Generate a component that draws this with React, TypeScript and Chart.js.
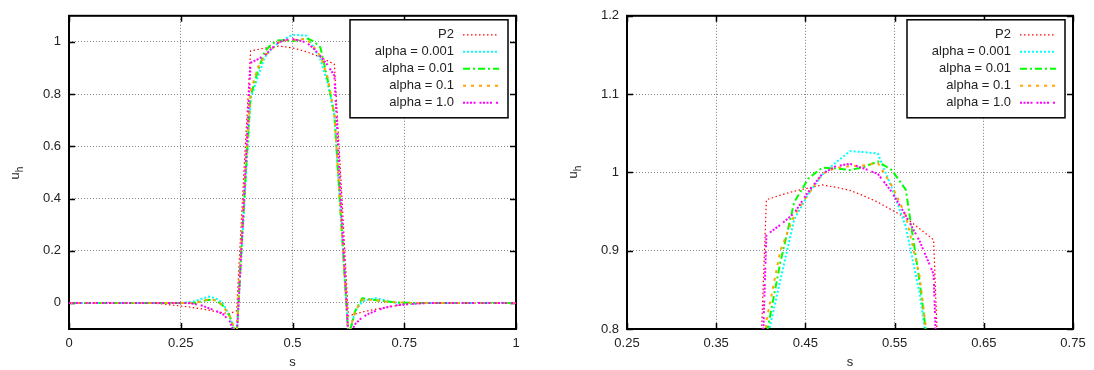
import React, { useEffect, useRef } from 'react';
import { Chart, registerables } from 'chart.js';
Chart.register(...registerables);

// ---------- data ----------
const S = [
  0, 0.015625, 0.03125, 0.046875, 0.0625, 0.078125, 0.09375, 0.109375, 0.125, 0.140625,
  0.15625, 0.171875, 0.1875, 0.203125, 0.21875, 0.234375, 0.25, 0.265625, 0.28125, 0.296875,
  0.3125, 0.328125, 0.34375, 0.359375, 0.375, 0.390625, 0.40625, 0.421875, 0.4375, 0.453125,
  0.46875, 0.484375, 0.5, 0.515625, 0.53125, 0.546875, 0.5625, 0.578125, 0.59375, 0.609375,
  0.625, 0.640625, 0.65625, 0.671875, 0.6875, 0.703125, 0.71875, 0.734375, 0.75, 0.765625,
  0.78125, 0.796875, 0.8125, 0.828125, 0.84375, 0.859375, 0.875, 0.890625, 0.90625, 0.921875,
  0.9375, 0.953125, 0.96875, 0.984375, 1,
];

const P2 = [
  0, 0, 0, 0, 0, 0, 0, 0, 0, 0, 0, 0, -0.001,
  -0.003, -0.006, -0.009, -0.012, -0.015, -0.019, -0.023, -0.028, -0.033, -0.038, -0.041, -0.03,
  0.48, 0.965, 0.971, 0.976, 0.98, 0.984, 0.981, 0.977, 0.97, 0.962, 0.952, 0.942, 0.928, 0.914,
  0.44, -0.05, -0.042, -0.035, -0.029, -0.024, -0.019, -0.014, -0.01, -0.007, -0.005, -0.003, -0.002, -0.001,
  0, 0, 0, 0, 0, 0, 0, 0, 0, 0, 0, 0,
];

const ALPHA_0001 = [
  0, 0, 0, 0, 0, 0, 0, 0, 0, 0, 0, 0, 0, 0, 0, 0, 0,
  0.002, 0.006, 0.016, 0.024, 0.018, 0.0, -0.05, -0.13, 0.33, 0.783, 0.862, 0.94, 0.972, 0.997,
  1.013, 1.027, 1.026, 1.024, 0.98, 0.931, 0.845, 0.72, 0.3, -0.13, -0.03, 0.005, 0.014, 0.018,
  0.012, 0.005, 0.0, -0.004, -0.003, -0.001,
  0, 0, 0, 0, 0, 0, 0, 0, 0, 0, 0, 0, 0, 0,
];

const ALPHA_001 = [
  0, 0, 0, 0, 0, 0, 0, 0, 0, 0, 0, 0, 0, 0, 0, 0, 0, 0, 0,
  0.006, 0.012, 0.01, -0.01, -0.05, -0.13, 0.36, 0.792, 0.885, 0.962, 0.992, 1.006, 1.005, 1.003,
  1.007, 1.014, 1.003, 0.978, 0.86, 0.72, 0.3, -0.13, -0.03, 0.018, 0.014, 0.01, 0.007, 0.004,
  0.002, 0.001,
  0, 0, 0, 0, 0, 0, 0, 0, 0, 0, 0, 0, 0, 0, 0, 0,
];

const ALPHA_01 = [
  0, 0, 0, 0, 0, 0, 0, 0, 0, 0, 0, 0, 0, 0, 0, 0, 0, 0, 0,
  0.006, 0.014, 0.01, -0.008, -0.05, -0.12, 0.4, 0.81, 0.9, 0.945, 0.972, 0.998, 1.006, 1.008,
  1.009, 1.012, 0.983, 0.945, 0.867, 0.72, 0.3, -0.12, -0.03, 0.012, 0.012, 0.01, 0.006, 0.004,
  0.002, 0.001,
  0, 0, 0, 0, 0, 0, 0, 0, 0, 0, 0, 0, 0, 0, 0, 0,
];

const ALPHA_1 = [
  0, 0, 0, 0, 0, 0, 0, 0, 0, 0, 0, 0, 0, 0, 0, 0, 0, 0,
  -0.004, -0.01, -0.02, -0.03, -0.042, -0.07, -0.14, 0.36, 0.92, 0.933, 0.948, 0.975, 0.998,
  1.008, 1.011, 1.005, 0.998, 0.975, 0.945, 0.912, 0.87, 0.36, -0.13, -0.08, -0.055, -0.04,
  -0.03, -0.02, -0.014, -0.009, -0.006, -0.004, -0.002, -0.001,
  0, 0, 0, 0, 0, 0, 0, 0, 0, 0, 0, 0, 0,
];

const SERIES_LABELS = ['P2', 'alpha = 0.001', 'alpha = 0.01', 'alpha = 0.1', 'alpha = 1.0'];
const SERIES_VALUES = [P2, ALPHA_0001, ALPHA_001, ALPHA_01, ALPHA_1];

const LEFT_X_TICKS = [0, 0.25, 0.5, 0.75, 1];
const LEFT_Y_TICKS = [0, 0.2, 0.4, 0.6, 0.8, 1];
const RIGHT_X_TICKS = [0.25, 0.35, 0.45, 0.55, 0.65, 0.75];
const RIGHT_Y_TICKS = [0.8, 0.9, 1, 1.1, 1.2];

// ---------- styles ----------
const COLORS = ['#ff0000', '#00ffff', '#00ff00', '#ffa500', '#ff00ff'];
const DASHES = [
  [1.5, 2.5],
  [2, 2],
  [7, 3, 2, 3],
  [3, 5],
  [2, 1.5, 2, 1.5, 2, 1.5, 2, 4],
];
const WIDTHS = [1.2, 2, 2, 2, 2];
const FONT = '"Liberation Sans", Arial, sans-serif';
const TEXT = '#222';

function makePlugin() {
  return {
    id: 'gnuplotFrame',
    beforeDatasetsDraw(chart: any) {
      const { ctx, chartArea } = chart;
      const { left, right, top, bottom } = chartArea;
      ctx.save();
      ctx.strokeStyle = '#000';
      ctx.lineWidth = 2;
      ctx.setLineDash([]);
      ctx.strokeRect(left, top, right - left, bottom - top);
      const xs = chart.scales.x;
      const ys = chart.scales.y;
      const tl = 6;
      ctx.lineWidth = 1.5;
      ctx.beginPath();
      xs.ticks.forEach((t: any) => {
        const px = Math.round(xs.getPixelForValue(t.value)) + 0.5;
        ctx.moveTo(px, bottom);
        ctx.lineTo(px, bottom - tl);
        ctx.moveTo(px, top);
        ctx.lineTo(px, top + tl);
      });
      ys.ticks.forEach((t: any) => {
        const py = Math.round(ys.getPixelForValue(t.value)) + 0.5;
        ctx.moveTo(left, py);
        ctx.lineTo(left + tl, py);
        ctx.moveTo(right, py);
        ctx.lineTo(right - tl, py);
      });
      ctx.stroke();
      ctx.restore();
    },
    afterDatasetsDraw(chart: any) {
      const { ctx, chartArea } = chart;
      const opts = chart.options.plugins.gnuplotFrame;
      ctx.save();
      // legend
      const boxR = chartArea.right - 8;
      const boxW = 158;
      const boxT = chartArea.top + 4;
      const boxH = 98;
      ctx.fillStyle = '#fff';
      ctx.fillRect(boxR - boxW, boxT, boxW, boxH);
      ctx.strokeStyle = '#000';
      ctx.lineWidth = 1.5;
      ctx.setLineDash([]);
      ctx.strokeRect(boxR - boxW, boxT, boxW, boxH);
      ctx.font = '13px ' + FONT;
      ctx.textAlign = 'right';
      ctx.textBaseline = 'middle';
      SERIES_LABELS.forEach((lab, i) => {
        const y = boxT + 15 + i * 17;
        ctx.fillStyle = TEXT;
        ctx.fillText(lab, boxR - 54, y);
        ctx.strokeStyle = COLORS[i];
        ctx.lineWidth = WIDTHS[i];
        ctx.setLineDash(DASHES[i]);
        ctx.beginPath();
        ctx.moveTo(boxR - 45, y);
        ctx.lineTo(boxR - 9, y);
        ctx.stroke();
      });
      ctx.setLineDash([]);
      // axis titles
      ctx.fillStyle = TEXT;
      ctx.textAlign = 'center';
      ctx.textBaseline = 'alphabetic';
      ctx.font = '13px ' + FONT;
      ctx.fillText('s', (chartArea.left + chartArea.right) / 2, 366);
      ctx.save();
      ctx.translate(opts.yTitleX, opts.yTitleY);
      ctx.rotate(-Math.PI / 2);
      ctx.textAlign = 'left';
      ctx.font = '13px ' + FONT;
      const uw = ctx.measureText('u').width;
      ctx.font = '10px ' + FONT;
      const hw = ctx.measureText('h').width;
      const start = -(uw + hw) / 2;
      ctx.font = '13px ' + FONT;
      ctx.fillText('u', start, 4);
      ctx.font = '10px ' + FONT;
      ctx.fillText('h', start + uw, 8);
      ctx.restore();
      ctx.restore();
    },
  };
}

function buildConfig(
  xMin: number, xMax: number, yMin: number, yMax: number,
  xTicks: number[], yTicks: number[], yAxisWidth: number, rightPad: number,
  yTitleX: number, yTitleY: number,
) {
  const datasets = SERIES_VALUES.map((vals, i) => ({
    label: SERIES_LABELS[i],
    data: S.map((s, k) => ({ x: s, y: vals[k] })),
    borderColor: COLORS[i],
    borderWidth: WIDTHS[i],
    borderDash: DASHES[i],
    pointRadius: 0,
    tension: 0,
    fill: false,
    clip: 0,
    order: SERIES_VALUES.length - 1 - i,
  }));
  return {
    type: 'line',
    data: { datasets },
    plugins: [makePlugin()],
    options: {
      responsive: false,
      animation: false,
      devicePixelRatio: 1,
      layout: { padding: { top: 13, right: rightPad, bottom: 0, left: 0 } },
      plugins: {
        legend: { display: false },
        tooltip: { enabled: false },
        gnuplotFrame: { yTitleX, yTitleY },
      },
      scales: {
        x: {
          type: 'linear',
          min: xMin,
          max: xMax,
          afterBuildTicks: (sc: any) => { sc.ticks = xTicks.map((v) => ({ value: v })); },
          afterFit: (sc: any) => { sc.height = 41; },
          ticks: {
            autoSkip: false,
            maxRotation: 0,
            padding: 7,
            color: TEXT,
            font: { size: 13, family: FONT },
            callback: (v: any) => String(v),
          },
          grid: { color: '#777', lineWidth: 1, drawTicks: false },
          border: { display: false, dash: [1, 2] },
        },
        y: {
          type: 'linear',
          min: yMin,
          max: yMax,
          afterBuildTicks: (sc: any) => { sc.ticks = yTicks.map((v) => ({ value: v })); },
          afterFit: (sc: any) => { sc.width = yAxisWidth; },
          ticks: {
            autoSkip: false,
            padding: 8,
            color: TEXT,
            font: { size: 13, family: FONT },
            callback: (v: any) => String(v),
          },
          grid: { color: '#888', lineWidth: 1, drawTicks: false },
          border: { display: false, dash: [1, 2] },
        },
      },
    },
  };
}

export default function App() {
  const leftRef = useRef<HTMLCanvasElement>(null);
  const rightRef = useRef<HTMLCanvasElement>(null);
  useEffect(() => {
    const c1 = new Chart(leftRef.current as any, buildConfig(
      0, 1, -0.1, 1.1, LEFT_X_TICKS, LEFT_Y_TICKS, 69, 31, 15, 173) as any);
    const c2 = new Chart(rightRef.current as any, buildConfig(
      0.25, 0.75, 0.8, 1.2, RIGHT_X_TICKS, RIGHT_Y_TICKS, 80, 21, 26, 172) as any);
    return () => { c1.destroy(); c2.destroy(); };
  }, []);
  return (
    <div style={{ position: 'absolute', left: 0, top: 0, width: 1094, height: 370, background: '#fff' }}>
      <canvas ref={leftRef} width={547} height={370}
        style={{ position: 'absolute', left: 0, top: 0, width: 547, height: 370 }} />
      <canvas ref={rightRef} width={547} height={370}
        style={{ position: 'absolute', left: 547, top: 0, width: 547, height: 370 }} />
    </div>
  );
}
